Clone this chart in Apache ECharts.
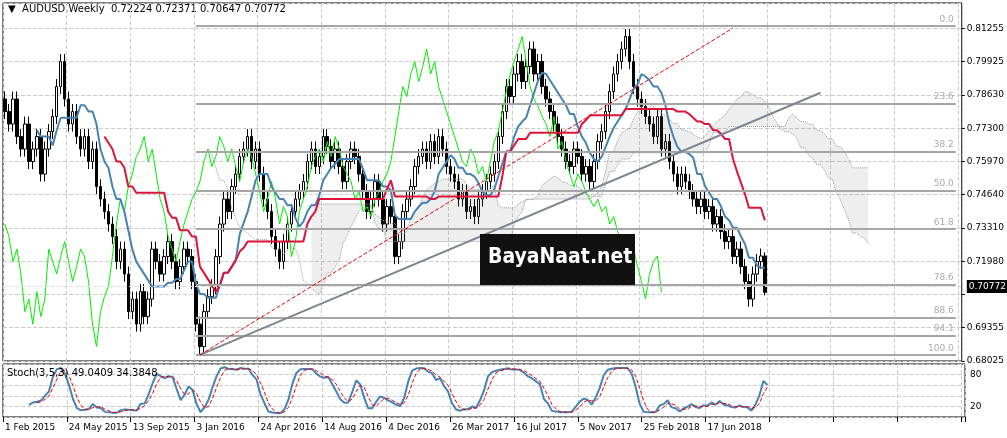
<!DOCTYPE html>
<html>
<head>
<meta charset="utf-8">
<script src="https://cdn.jsdelivr.net/npm/echarts@6/dist/echarts.min.js"></script>
<style>html,body{margin:0;padding:0;background:#fff}#main{width:1007px;height:438px}</style>
</head>
<body>
<div id="main"></div>
<script>
// 周线收盘价
var closes = [
  0.780,0.775,0.785,0.770,0.765,0.775,0.760,0.765,0.770,0.755,0.765,
  0.772,0.778,0.790,0.800,0.785,0.775,0.780,0.770,0.765,
  0.770,0.760,0.765,0.750,0.745,0.740,0.735,0.730,0.720,0.725,0.715,
  0.700,0.705,0.695,0.708,0.698,0.705,
  0.725,0.720,0.715,0.722,0.728,0.720,0.712,0.718,0.725,0.722,0.712,
  0.695,0.686,0.700,0.706,0.710,
  0.722,0.735,0.745,0.740,0.750,0.755,0.762,0.765,
  0.770,0.760,0.765,0.755,0.745,0.740,
  0.730,0.725,0.720,0.728,0.735,0.740,
  0.745,0.748,0.752,0.760,0.765,0.758,0.762,0.770,0.766,0.760,
  0.765,0.758,0.752,0.760,0.765,0.762,0.755,0.748,0.740,0.745,
  0.752,0.745,0.735,0.742,0.738,0.722,0.728,0.740,
  0.745,0.750,0.758,0.762,0.765,0.760,0.768,0.762,0.770,0.765,0.758,0.755,
  0.752,0.745,0.748,0.740,0.742,0.738,0.745,0.748,
  0.752,0.755,0.760,0.770,0.780,0.790,0.786,0.795,0.800,0.792,
  0.798,0.805,0.795,0.800,0.790,0.785,0.780,0.775,0.770,0.765,
  0.760,0.758,0.765,0.762,0.755,0.758,0.752,0.760,0.768,0.772,
  0.780,0.788,0.795,0.800,0.805,0.810,0.800,
  0.790,0.785,0.782,0.778,0.775,0.770,0.778,0.765,0.768,
  0.760,0.755,0.750,0.755,0.752,0.748,0.745,0.742,0.745,
  0.740,0.742,0.735,0.738,0.732,0.728,0.730,0.722,0.725,0.718,
  0.712,0.705,0.715,0.720,0.72224,0.70772
];
var firstOpen = 0.785;
var lastHigh = 0.72371, lastLow = 0.70647;
var yLabels = ['0.68025','0.69355','','0.71980','0.73310','0.74640','0.75970','0.77300','0.78630','0.79925','0.81255'];
var fibLevels = [0, 23.6, 38.2, 50.0, 61.8, 78.6, 88.6, 94.1, 100.0];
var fibHigh = 0.8142, fibLow = 0.6827;
var totalSlots = 241;

var n = closes.length;
var dates = [];
var months = ['Jan','Feb','Mar','Apr','May','Jun','Jul','Aug','Sep','Oct','Nov','Dec'];
var d0 = new Date(Date.UTC(2015, 1, 1));
for (var i = 0; i < totalSlots; i++) {
  var d = new Date(d0.getTime() + i * 7 * 86400000);
  dates.push(d.getUTCDate() + ' ' + months[d.getUTCMonth()] + ' ' + d.getUTCFullYear());
}

// K线 OHLC
var opens = [], highs = [], lows = [], candle = [];
for (var i = 0; i < n; i++) {
  var o = i === 0 ? firstOpen : closes[i - 1];
  var c = closes[i];
  var h = Math.max(o, c) + 0.003, l = Math.min(o, c) - 0.003;
  if (i === n - 1) { o = 0.72224; h = lastHigh; l = lastLow; }
  opens.push(o); highs.push(h); lows.push(l);
  candle.push([o, c, l, h]);
}

function mid(p, i) {
  if (i < p - 1) return null;
  var hh = -1, ll = 9;
  for (var k = i - p + 1; k <= i; k++) { hh = Math.max(hh, highs[k]); ll = Math.min(ll, lows[k]); }
  return (hh + ll) / 2;
}
var tenkan = [], kijun = [], spanA = [], spanB = [], chikou = [];
for (var i = 0; i < totalSlots; i++) {
  tenkan.push(i < n ? mid(9, i) : null);
  kijun.push(i < n ? mid(26, i) : null);
  var j = i - 26;
  if (j >= 0 && j < n && mid(26, j) !== null) {
    spanA.push((mid(9, j) + mid(26, j)) / 2);
    spanB.push(mid(52, j));
  } else { spanA.push(null); spanB.push(null); }
  chikou.push(i + 26 < n ? closes[i + 26] : null);
}
var cloudLow = [], cloudBand = [];
for (var i = 0; i < totalSlots; i++) {
  if (spanA[i] === null || spanB[i] === null) { cloudLow.push(null); cloudBand.push(null); }
  else { cloudLow.push(Math.min(spanA[i], spanB[i])); cloudBand.push(Math.abs(spanA[i] - spanB[i])); }
}

// Stoch(3,5,3)
var rawK = [], stK = [], stD = [];
for (var i = 0; i < n; i++) {
  if (i < 4) { rawK.push(null); continue; }
  var hh = -1, ll = 9;
  for (var k = i - 4; k <= i; k++) { hh = Math.max(hh, highs[k]); ll = Math.min(ll, lows[k]); }
  rawK.push([closes[i] - ll, hh - ll]);
}
for (var i = 0; i < n; i++) {
  if (i < 6) { stK.push(null); continue; }
  var a = 0, b = 0;
  for (var k = i - 2; k <= i; k++) { a += rawK[k][0]; b += rawK[k][1]; }
  stK.push(100 * a / b);
}
for (var i = 0; i < n; i++) {
  if (i < 8) { stD.push(null); continue; }
  stD.push((stK[i] + stK[i - 1] + stK[i - 2]) / 3);
}

var fibLines = fibLevels.map(function (p) {
  var v = fibHigh - p / 100 * (fibHigh - fibLow);
  return [{ coord: [48, v], label: { show: true, formatter: p.toFixed(1) } }, { coord: [239, v] }];
});

var myChart = echarts.init(document.getElementById('main'));
var gridLine = { show: true, lineStyle: { color: '#ccc', type: 'dashed' } };
var option = {
  animation: false,
  backgroundColor: '#fff',
  textStyle: { fontFamily: 'DejaVu Sans' },
  grid: [
    { left: 3, right: 42, top: 3, height: 358, show: true, borderColor: '#000', borderWidth: 1 },
    { left: 3, right: 42, top: 364, height: 53, show: true, borderColor: '#000', borderWidth: 1 }
  ],
  xAxis: [
    { type: 'category', data: dates, gridIndex: 0, axisLabel: { show: false }, axisTick: { show: false }, axisLine: { show: false },
      splitLine: { show: true, interval: 15, lineStyle: { color: '#ccc', type: 'dashed' } } },
    { type: 'category', data: dates, gridIndex: 1, axisLine: { show: false },
      axisTick: { show: true, interval: 15, lineStyle: { color: '#000' } },
      axisLabel: { interval: 15, color: '#000', fontSize: 9, align: 'left', margin: 6,
        formatter: function (v, idx) { return idx < n ? v : ''; } },
      splitLine: { show: true, interval: 15, lineStyle: { color: '#ccc', type: 'dashed' } } }
  ],
  yAxis: [
    { type: 'value', gridIndex: 0, position: 'right', min: 0.68025, max: 0.8234, interval: 0.0133, scale: true,
      axisLine: { show: false }, axisTick: { show: true, length: 3, lineStyle: { color: '#000' } }, splitLine: gridLine,
      axisLabel: { color: '#000', fontSize: 9, margin: 5, showMaxLabel: false,
        formatter: function (v) { var k = Math.round((v - 0.68025) / 0.0133); return yLabels[k] || ''; } } },
    { type: 'value', gridIndex: 1, position: 'right', min: 0, max: 100, interval: 20,
      axisLine: { show: false }, axisTick: { show: false },
      splitLine: { show: true, lineStyle: { color: '#ccc', type: 'dashed' } },
      axisLabel: { color: '#000', fontSize: 9, margin: 5, formatter: function (v) { return (v === 20 || v === 80) ? v : ''; } } }
  ],
  graphic: [
    { type: 'text', left: 8, top: 4, style: { text: '\u25BC  AUDUSD,Weekly  0.72224 0.72371 0.70647 0.70772', fill: '#000', fontSize: 10, fontFamily: 'DejaVu Sans' } },
    { type: 'text', left: 7, top: 368, z: 60, style: { text: 'Stoch(3,5,3) 49.0409 34.3848', fill: '#000', fontSize: 10, fontFamily: 'DejaVu Sans' } },
    { type: 'rect', left: 480, top: 234, shape: { width: 155, height: 51 }, style: { fill: '#111' }, z: 50 },
    { type: 'text', left: 488, top: 247, style: { text: 'BayaNaat.net', fill: '#fff', fontSize: 21, fontWeight: 'bold', fontFamily: 'DejaVu Sans Condensed' }, z: 51 }
  ],
  series: [
    { type: 'line', data: cloudLow, stack: 'cloud', symbol: 'none', lineStyle: { width: 0 }, silent: true, xAxisIndex: 0, yAxisIndex: 0 },
    { type: 'line', data: cloudBand, stack: 'cloud', symbol: 'none', lineStyle: { width: 0 }, areaStyle: { color: 'rgba(120,120,120,0.18)' }, silent: true },
    { type: 'line', data: spanA, symbol: 'none', lineStyle: { color: '#999', width: 1, type: 'dotted' } },
    { type: 'line', data: spanB, symbol: 'none', lineStyle: { color: '#999', width: 1, type: 'dotted' } },
    { type: 'line', data: chikou, symbol: 'none', lineStyle: { color: '#00ee00', width: 1 } },
    { type: 'line', data: [], symbol: 'none',
      markLine: { silent: true, symbol: 'none', lineStyle: { color: '#a6a6a6', width: 2, type: 'solid' },
        label: { show: true, position: 'insideEndTop', color: '#aaa', fontSize: 9, distance: 2 }, data: fibLines } },
    { type: 'line', data: [], symbol: 'none',
      markLine: { silent: true, symbol: 'none', label: { show: false }, data: [
        [{ coord: [49, fibLow], lineStyle: { color: '#7f8690', width: 2, type: 'solid' } }, { coord: [205, 0.7875] }],
        [{ coord: [49, fibLow], lineStyle: { color: '#e00', width: 1, type: 'dashed' } }, { coord: [183, 0.8134] }]
      ] } },
    { type: 'candlestick', data: candle, barWidth: 3,
      itemStyle: { color: '#fff', color0: '#000', borderColor: '#000', borderColor0: '#000', borderWidth: 1 },
      markLine: { silent: true, symbol: 'none', data: [{ yAxis: 0.70772 }],
        lineStyle: { color: '#ddd', width: 1, type: 'dashed' },
        label: { position: 'end', formatter: '0.70772', backgroundColor: '#000', color: '#fff', fontSize: 9, padding: [2, 2] } } },
    { type: 'line', data: tenkan, symbol: 'none', lineStyle: { color: '#4682b4', width: 2 } },
    { type: 'line', data: kijun, symbol: 'none', lineStyle: { color: '#dc143c', width: 2 } },
    { type: 'line', data: stK, xAxisIndex: 1, yAxisIndex: 1, symbol: 'none', lineStyle: { color: '#4682b4', width: 2 } },
    { type: 'line', data: stD, xAxisIndex: 1, yAxisIndex: 1, symbol: 'none', lineStyle: { color: '#e00', width: 1, type: 'dashed' } }
  ]
};
myChart.setOption(option);
</script>
</body>
</html>
